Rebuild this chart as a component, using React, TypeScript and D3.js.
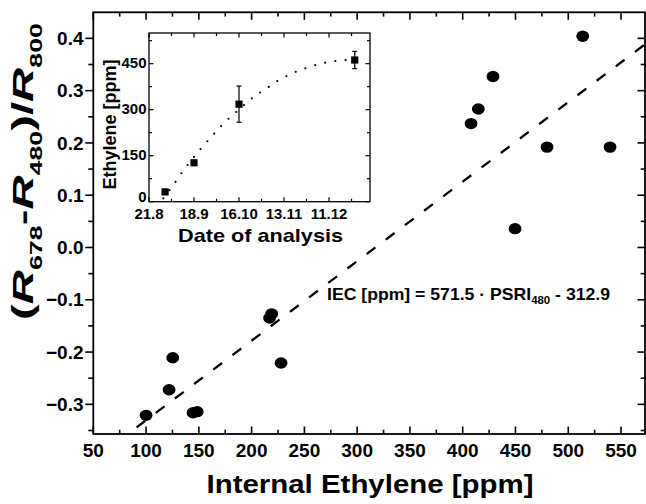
import React from "react";
import * as d3 from "d3";

// Main scatter: internal ethylene (ppm) vs PSRI index
const ethylene = [100, 121.8, 125.3, 144.5, 148.5, 217, 219, 227.9, 407.9, 414.8, 428.7, 449.6, 479.9, 513.7, 539.6];
const psri = [-0.321, -0.272, -0.211, -0.316, -0.314, -0.135, -0.127, -0.221, 0.237, 0.265, 0.327, 0.036, 0.192, 0.404, 0.192];
// Regression line end points
const regX = [91, 573];
const regY = [-0.344, 0.389];

const xTicks = [50, 100, 150, 200, 250, 300, 350, 400, 450, 500, 550];
const xMinor = [75, 125, 175, 225, 275, 325, 375, 425, 475, 525];
const yTicks = [-0.3, -0.2, -0.1, 0.0, 0.1, 0.2, 0.3, 0.4];
const yMinor = [-0.35, -0.25, -0.15, -0.05, 0.05, 0.15, 0.25, 0.35];

// Inset: ethylene over date of analysis (days after 21.8)
const insetDays = [10, 28, 56, 128];
const insetVals = [32, 127, 318, 462];
const insetErr = [8, 5, 59, 28];
const fitDays = [8.9, 17.2, 21, 25.1, 29.7, 34.4, 39.4, 44.6, 50, 56.2, 62, 68.3, 74.2, 80.1, 86.3, 92.5, 98.5, 104.4, 110.3, 116.4, 122.6];
const fitVals = [11, 70, 99, 127, 157, 186, 215, 245, 273, 301, 329, 353, 373, 394, 411, 426, 437, 447, 454, 459, 462];
const insetXTicks = [0, 28, 56, 84, 112];
const insetXLabels = ["21.8", "18.9", "16.10", "13.11", "11.12"];
const insetXMinor = [14, 42, 70, 98, 126];
const insetYTicks = [0, 150, 300, 450];
const insetYMinor = [75, 225, 375, 525];

const FONT = "'Liberation Sans', Arial, sans-serif";

export default function App() {
  const W = 646, H = 504;
  const L = 93.3, R = 645, T = 12.3, B = 434;
  const x = d3.scaleLinear().domain([50, 573]).range([L, 645.3]);
  const y = d3.scaleLinear().domain([-0.3567, 0.4504]).range([B, 12]);

  const iL = 149, iR = 370, iT = 33, iB = 201.7;
  const ix = d3.scaleLinear().domain([0, 137.5]).range([iL, iR]);
  const iy = d3.scaleLinear().domain([0, 550]).range([iB, iT]);

  const regLine = d3.line<number>().x((d) => x(regX[d])).y((d) => y(regY[d]))([0, 1]) || "";
  const fitLine = d3
    .line<number>()
    .x((i) => ix(fitDays[i]))
    .y((i) => iy(fitVals[i]))
    .curve(d3.curveMonotoneX)(fitDays.map((_, i) => i)) || "";

  return (
    <svg width={W} height={H} style={{ position: "absolute", left: 0, top: 0, background: "#fff" }} fontFamily={FONT}>
      <defs>
        <clipPath id="plotclip">
          <rect x={L} y={T} width={R - L} height={B - T} />
        </clipPath>
      </defs>
      <rect x={0} y={0} width={W} height={H} fill="#fff" />

      {/* regression line */}
      <path d={regLine} stroke="#000" strokeWidth={2.3} strokeDasharray="11 13" fill="none" clipPath="url(#plotclip)" />

      {/* points */}
      {ethylene.map((e, i) => (
        <ellipse key={i} cx={x(e)} cy={y(psri[i])} rx={6.4} ry={5.7} fill="#000" />
      ))}

      {/* main frame */}
      <rect x={L} y={T} width={R - L} height={B - T} fill="none" stroke="#000" strokeWidth={1.8} />

      {/* x ticks */}
      {xTicks.map((t) => (
        <g key={"xt" + t}>
          <line x1={x(t)} x2={x(t)} y1={B} y2={B - 7.5} stroke="#000" strokeWidth={1.6} />
          <line x1={x(t)} x2={x(t)} y1={T} y2={T + 7.5} stroke="#000" strokeWidth={1.6} />
          <text x={x(t)} y={456.7} textAnchor="middle" fontSize={19} fontWeight="bold">{t}</text>
        </g>
      ))}
      {xMinor.map((t) => (
        <g key={"xm" + t}>
          <line x1={x(t)} x2={x(t)} y1={B} y2={B - 4.3} stroke="#000" strokeWidth={1.6} />
          <line x1={x(t)} x2={x(t)} y1={T} y2={T + 4.3} stroke="#000" strokeWidth={1.6} />
        </g>
      ))}

      {/* y ticks */}
      {yTicks.map((t) => (
        <g key={"yt" + t}>
          <line x1={L} x2={L - 8} y1={y(t)} y2={y(t)} stroke="#000" strokeWidth={1.6} />
          <line x1={R} x2={R - 7.5} y1={y(t)} y2={y(t)} stroke="#000" strokeWidth={1.6} />
          <text x={83.5} y={y(t) + 6.7} textAnchor="end" fontSize={19} fontWeight="bold">{d3.format(".1f")(t)}</text>
        </g>
      ))}
      {yMinor.map((t) => (
        <g key={"ym" + t}>
          <line x1={L} x2={L - 5} y1={y(t)} y2={y(t)} stroke="#000" strokeWidth={1.6} />
          <line x1={R} x2={R - 4.3} y1={y(t)} y2={y(t)} stroke="#000" strokeWidth={1.6} />
        </g>
      ))}

      {/* axis titles */}
      <text x={370} y={493} textAnchor="middle" fontSize={25} fontWeight="bold" textLength={327} lengthAdjust="spacingAndGlyphs">
        Internal Ethylene [ppm]
      </text>
      <text
        transform="translate(33,171.5) rotate(-90)"
        textAnchor="middle"
        fontSize={30}
        fontWeight="bold"
        textLength={297}
        lengthAdjust="spacingAndGlyphs"
      >
        <tspan>(</tspan>
        <tspan fontStyle="italic">R</tspan>
        <tspan fontSize={17} dy={9}>678</tspan>
        <tspan dy={-9}>-</tspan>
        <tspan fontStyle="italic">R</tspan>
        <tspan fontSize={17} dy={9}>480</tspan>
        <tspan dy={-9}>)/</tspan>
        <tspan fontStyle="italic">R</tspan>
        <tspan fontSize={17} dy={9}>800</tspan>
      </text>

      {/* equation */}
      <text x={327} y={300} fontSize={17} fontWeight="bold" textLength={283} lengthAdjust="spacingAndGlyphs">
        <tspan>IEC [ppm] = 571.5 · PSRI</tspan>
        <tspan fontSize={11} dy={4}>480</tspan>
        <tspan dy={-4}> - 312.9</tspan>
      </text>

      {/* ===== inset ===== */}
      <rect x={iL} y={iT} width={iR - iL} height={iB - iT} fill="#fff" stroke="none" />
      <path d={fitLine} stroke="#000" strokeWidth={2.2} strokeLinecap="round" strokeDasharray="0 10.3" fill="none" />
      {insetDays.map((d, i) => (
        <g key={"ip" + i}>
          <line x1={ix(d)} x2={ix(d)} y1={iy(insetVals[i] - insetErr[i])} y2={iy(insetVals[i] + insetErr[i])} stroke="#000" strokeWidth={1.2} />
          <line x1={ix(d) - 2.5} x2={ix(d) + 2.5} y1={iy(insetVals[i] - insetErr[i])} y2={iy(insetVals[i] - insetErr[i])} stroke="#000" strokeWidth={1.2} />
          <line x1={ix(d) - 2.5} x2={ix(d) + 2.5} y1={iy(insetVals[i] + insetErr[i])} y2={iy(insetVals[i] + insetErr[i])} stroke="#000" strokeWidth={1.2} />
          <rect x={ix(d) - 3.6} y={iy(insetVals[i]) - 3.6} width={7.2} height={7.2} fill="#000" />
        </g>
      ))}
      <rect x={iL} y={iT} width={iR - iL} height={iB - iT} fill="none" stroke="#000" strokeWidth={1.3} />
      {insetXTicks.map((t, i) => (
        <g key={"ixt" + t}>
          <line x1={ix(t)} x2={ix(t)} y1={iB} y2={iB - 4.5} stroke="#000" strokeWidth={1.2} />
          <line x1={ix(t)} x2={ix(t)} y1={iT} y2={iT + 4.5} stroke="#000" strokeWidth={1.2} />
          <text x={ix(t)} y={218.8} textAnchor="middle" fontSize={15} fontWeight="bold">{insetXLabels[i]}</text>
        </g>
      ))}
      {insetXMinor.map((t) => (
        <g key={"ixm" + t}>
          <line x1={ix(t)} x2={ix(t)} y1={iB} y2={iB - 3} stroke="#000" strokeWidth={1.2} />
          <line x1={ix(t)} x2={ix(t)} y1={iT} y2={iT + 3} stroke="#000" strokeWidth={1.2} />
        </g>
      ))}
      {insetYTicks.map((t) => (
        <g key={"iyt" + t}>
          <line x1={iL} x2={iL + 4.5} y1={iy(t)} y2={iy(t)} stroke="#000" strokeWidth={1.2} />
          <line x1={iR} x2={iR - 4.5} y1={iy(t)} y2={iy(t)} stroke="#000" strokeWidth={1.2} />
          <text x={146.5} y={t === 0 ? iy(t) + 0.1 : iy(t) + 4.5} textAnchor="end" fontSize={15} fontWeight="bold">{t}</text>
        </g>
      ))}
      {insetYMinor.map((t) => (
        <g key={"iym" + t}>
          <line x1={iL} x2={iL + 3} y1={iy(t)} y2={iy(t)} stroke="#000" strokeWidth={1.2} />
          <line x1={iR} x2={iR - 3} y1={iy(t)} y2={iy(t)} stroke="#000" strokeWidth={1.2} />
        </g>
      ))}
      <text x={260.5} y={242} textAnchor="middle" fontSize={19} fontWeight="bold" textLength={165} lengthAdjust="spacingAndGlyphs">
        Date of analysis
      </text>
      <text transform="translate(115.7,124.5) rotate(-90)" textAnchor="middle" fontSize={18} fontWeight="bold">
        Ethylene [ppm]
      </text>
    </svg>
  );
}
